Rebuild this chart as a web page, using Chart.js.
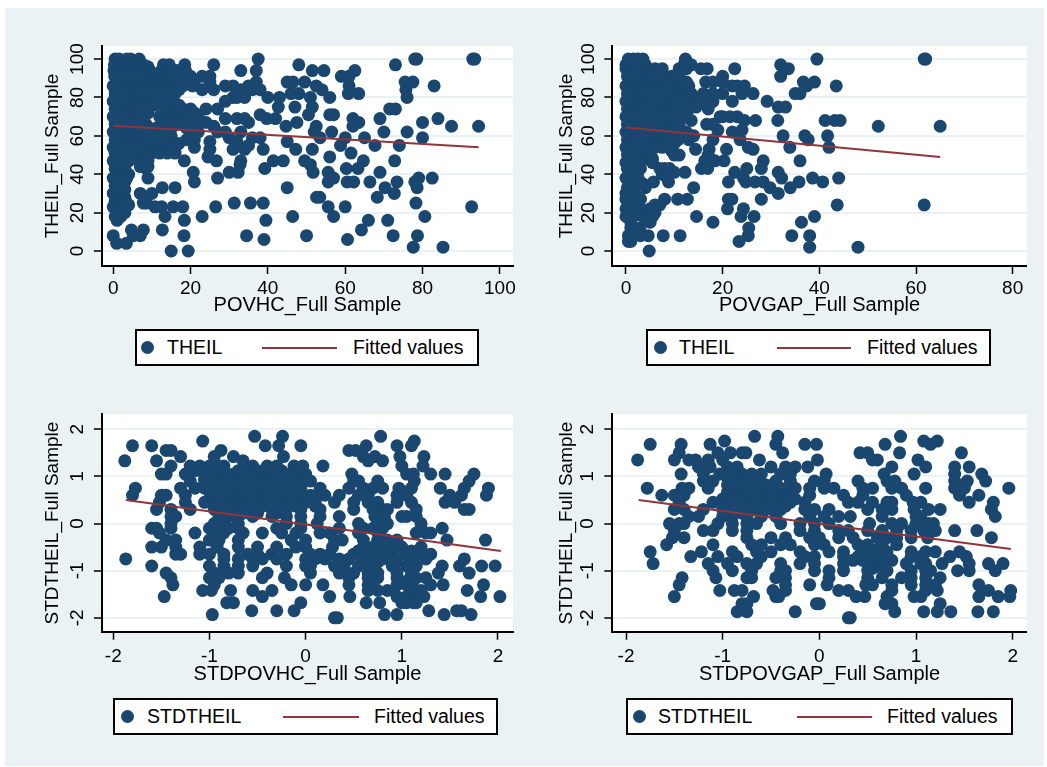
<!DOCTYPE html>
<html>
<head>
  <title>THEIL scatter plots</title>
  <script src="https://cdn.jsdelivr.net/npm/chart.js"></script>
  <style>
    body { margin: 0; background: #fff; font-family: "Liberation Sans", Arial, sans-serif; }
    #bg { position: absolute; left: 5px; top: 8px; width: 1039px; height: 758px; background: #eaf2f3; }
    canvas { position: absolute; }
    .legend { position: absolute; background: #fff; border: 2px solid #000; box-sizing: border-box; height: 37px; }
    .legend span { position: absolute; top: 5px; font-size: 19.5px; color: #000; white-space: nowrap; }
    .legend i { position: absolute; display: block; }
    .dot { width: 13px; height: 13px; border-radius: 50%; background: #1a476f; top: 10px; }
    .ln { height: 2px; background: #90353b; top: 16px; }
  </style>
</head>
<body>
  <div id="bg"></div>

  <script>
    // each row: [y, [x values at that y]]
    const hcRows = [
      [100, [.5,1.5,3.5,4.5,6.7,93,78,37.5,93.5,78.5]],
      [97, [.3,2.2,4,6,7.8,13,14.5,18.5,48,73,26]],
      [96, [1,3,5,7,9]],
      [94, [.2,1.5,3.5,5.5,7.5,9.5,12.5,14.5,16.5,18.7,37,33,51.5,62.5,54.5]],
      [92, [1,3,5,7,9,11,13,15,17]],
      [91, [.4,2.4,4.4,6.4,8.4,10,12,14,16,18,20,59,61,25,23]],
      [88, [45,46.5,49.5,75.5,77.5,25,37,21,1,3,5,7,9,11,13,15,17,19]],
      [86, [0,2,4,6,8,10,12,14,16,18,20.5,83,61,52.5,29,31,35]],
      [84, [54,75.7,26,23,36,38,33,1,3,5,7,9,11,13,15,17]],
      [82, [.5,2.5,4.5,6.5,8.5,10.5,12.5,14.5,16,60.8,63.5,46,48]],
      [80, [76,40,43,51,56,34,31,32,1,3,5,7,9,11,13,15]],
      [78, [0,2,4,6,8,10,12,14,29]],
      [76, [1,3,5,7,9,11,13,15,17]],
      [75, [42.7,47,51.5]],
      [74, [.5,2.5,4.5,6.5,8.5,16,18,20,71.5,73,24,27]],
      [72, [1,3,5,7,9,15,17,19,21]],
      [71, [50.5,56,57,38]],
      [70, [0,2,4,6,12,14,16,18,20,22]],
      [69, [42,39.7,62,69,84,29,32,34]],
      [68, [1,3,5,7,13,15,17,19]],
      [67, [47.5,63.5,80,35,24]],
      [66, [.5,2.5,4.5,6.5,8.5,13,15,17,19,21]],
      [65, [44.7,62,87.5,94.5,52.5,26]],
      [64, [1,3,5,7,9,11,13,15,19,21]],
      [62, [0,2,4,6,8,10,12,14,20,22,52,56.5,70,76,27,29,33]],
      [60, [1,3,5,7,9,11,13,15,20]],
      [59, [53.5,60,65,80,30,36,38]],
      [58, [.5,2.5,4.5,6.5,8.5,10.5,12.5,14.5,19,21]],
      [57, [45,32,25]],
      [56, [1,3,5,7,9,13,15,17]],
      [55, [74,67.7,58.8,35]],
      [54, [0,2,4,6,8,12,14,16,21]],
      [53, [38.8,47.2,51.5,25,31,34]],
      [52, [1,3,7,9,11,13,15]],
      [51, [61.5,.5,2.5,6,8,10,12,14,16]],
      [49, [56,24.5]],
      [48, [1,3,6,8]],
      [47, [49.5,64.7,41.4,18.4,44,72.8,26.7,33,0,2,4,7,9]],
      [45, [51,32.8]],
      [44, [1,3,7,9]],
      [43, [39.2,60.3,63.3,.5,2.5,8.5]],
      [41, [51.7,55.6,69,32.3,30,20.7]],
      [40, [1,3,4]],
      [38, [57,82.5,27,79,0,2,3.5,9]],
      [36, [55.6,66.4,60.5,62.2,73.4,21,78,1,3]],
      [34, [.5,2.5]],
      [33, [78.6,45,16,12.7,70.3]],
      [32, [1,3]],
      [30, [72.7,10,7,0,2]],
      [28, [68.3,52.6,53.4,1,3]],
      [26, [.5,2.5,3.2]],
      [25, [78.3,38.8,35.5,31.3,7.8,8.6]],
      [24, [1,3,4]],
      [23, [92.7,60,55.6,26.5,10.8,12.5,15.5,18,0,2,3]],
      [20, [1,3]],
      [18, [57,80.6,46.4,23,13.4,.5,2]],
      [16, [66,71,39.5,18.4,1]],
      [11, [64.2,12.7,7.8,4.7]],
      [8, [72.4,78.7,50,34.5,18.3,5.2,0,7]],
      [6, [60.6,39]],
      [4, [3.4,.9]],
      [2, [77.6,85.3]],
      [0, [19.4,15]]
    ];

    const gapRows = [
      [100, [.5,1.5,2.5,3.5,61.7,39.5,12.3,62]],
      [97, [0,2,4,12,13.5,32]],
      [95, [0,1.5,3,4.5,6,7.5,11,12.5,15.5,16.8,33.6,22.5]],
      [93, [.8,2.3,3.8,5.3,6.8]],
      [91, [.3,1.8,3.3,4.8,6.3,7.8,9.5,11,20,32]],
      [88, [39,36.7,16.5,18,20,.8,2.3,3.8,5.3,6.8,8.3,9.8,11.3,12.5]],
      [86, [0,1.5,3,4.5,6,7.5,9,10.5,12,13,43.5,37.4,22,23,24.5]],
      [84, [.8,2.3,3.8,5.3,6.8,8.3,9.8,11.3,12.8]],
      [82, [.3,1.8,3.3,4.8,6.3,7.8,9.3,10.8,12.3,13.5,36,26.3,35,24,20,18,16]],
      [80, [.8,2.3,3.8,5.3,6.8,8.3,9.8,11.3,12.8,14]],
      [78, [0,1.5,3,4.5,6,7.5,9,10.5,12,14,29.2,22,18,16,15]],
      [76, [.8,2.3,3.8,5.3,6.8,8.3,9.8,11.3,12.8]],
      [75, [17,14.5,31.5,33]],
      [74, [.3,1.8,3.3,4.8,6.3,7.8,9.3,10.8,13,17]],
      [72, [.8,2.3,3.8,5.3,6.8,8.3,9.8,10.5]],
      [70, [0,1.5,3,4.5,6,7.5,9,10.5,12,20,23,21.5,19.5]],
      [68, [13.5,26.8,31.4,44.3,43.2,41.2,24.5]],
      [66, [.3,1.8,3.3,4.8,6.3,7.8,9.3,11,18,16.7]],
      [65, [52.2,65]],
      [64, [.8,2.3,3.8,5.3,6.8,8.3,9.8,10.5]],
      [63, [24,19]],
      [62, [0,1.5,3,4.5,6,7.5,9,10.5,12.5,22]],
      [60, [32.5,37,41.7,.8,2.3,3.8,5.3,6.8,8.3,9.8,11,13,14]],
      [58, [.3,1.8,3.3,4.8,6.3,7.8,9.3,10.8,13,18,23.6,37.7]],
      [56, [.8,2.3,3.8,5.3,6.8,8,10]],
      [54, [0,1.5,3,4.5,6,7.5,9,42,33.9,25.3]],
      [53, [14.4,17.2,20.8,26.3]],
      [52, [.8,2.3,4,9.5]],
      [50, [.3,1.8,3.3,5,10,11,17]],
      [48, [.8,2.3,4,5.5]],
      [47, [36,28.4,20.3,16.3,18.4]],
      [46, [0,1.5,3,5.5]],
      [43, [.3,1.8,3,7,8,9,28,25,15.6,16.9]],
      [41, [22.5,12.2,10,31.5]],
      [40, [.8,2.3,7.5,8.5]],
      [38, [0,1.5,2.5,8.5,24.3,32.2,38.6,44]],
      [36, [24.8,26.7,28.4,21.2,8.8,5.7,35.8,40.7]],
      [35, [.8,2.3,3.5]],
      [33, [.3,1.8,4,14,34,29.8]],
      [30, [0,1.5,31.5]],
      [28, [.8,2.3]],
      [27, [0,1.5,3,21.2,21.9,28,10.7,12.7,8]],
      [24, [43.7,61.7,7,6,.8,2.3]],
      [22, [0,1.5,3,21,24.3,5]],
      [20, [.8,2.3,6]],
      [18, [0,1.5,3.5,4.5,5.5,23.8,39,26.5,14.6]],
      [15, [1,5,18,36.3]],
      [12, [2.9,25.4,1]],
      [8, [.5,1.5,3,4.6,7.7,25.3,34.3,38,11.2]],
      [5, [23.4,.5,1]],
      [2, [48,38]],
      [0, [4.8]]
    ];

    const stdHcRows = [
      [1.85, [-.53,-.24,.78]],
      [1.75, [1.13,-1.07]],
      [1.65, [-1.8,-1.6,-.42,-.28,-.05,.95,.63,1.1]],
      [1.55, [-1.45,-1.4,-.88,.45,.52]],
      [1.42, [.72,-1.3,-.75,-.23,-.95,.98,1.23,.6]],
      [1.33, [-.65,.65,.8,-1.88,-1.55]],
      [1.22, [1,1.22,.18,-1.4,-1.2,-1.1,-1,-.9,-.55,-.4,-.12,-.03,-.85,-.3]],
      [1.12, [-1.15,-1.05,-.95,-.85,-.7,-.6,-.5,-.4,-.25,-.1]],
      [1.05, [-1.5,-1.45,-1.25,-.95,-.75,-.55,-.35,-.2,-.05,.48,1.3,1.45,1.75,1.12,1.05,0]],
      [.97, [-1.05,-.9,-.8,-.65,-.55,-.45,-.35,-.25,-.15,0]],
      [.9, [-1.2,-1.05,-.95,-.85,-.75,-.6,-.5,-.4,-.3,-.2,-.1,.05,.5,.55,.75,1.13,1.7]],
      [.82, [-1,-.88,-.72,-.55,-.45,-.35,-.25,-.1]],
      [.75, [-1.3,-1.15,-1.05,-.9,-.8,-.65,-.5,-.4,-.3,-.15,-.05,.15,.45,.6,.7,.8,.97,1.1,1.4,1.65,1.9,-1.77]],
      [.67, [-1,-.9,-.8,-.7,-.6,-.5,-.4,-.25,-.15]],
      [.6, [-1.5,-1.45,-1.25,-.95,-.85,-.75,-.65,-.55,-.45,-.35,-.2,-.1,.05,.2,.35,.55,.65,.95,1.05,1.5,1.62,-1.8,1.88]],
      [.52, [-1,-.85,-.75,-.65,-.55,-.45,-.35,-.25,-.05,.1]],
      [.45, [-1.52,-1.25,-1.05,-.9,-.8,-.7,-.6,-.5,-.4,-.3,-.15,0,.1,.3,.5,.65,.75,.95,1.1,1.45,1.55]],
      [.37, [-.9,-.75,-.65,-.55,-.45,-.3,-.1,.1]],
      [.3, [-1.55,-1.4,-1.2,-.95,-.8,-.7,-.6,-.5,-.35,-.2,-.05,.15,.5,.7,.8,1.15,1.65,1.7,.85]],
      [.22, [-.75,-.65,-.5,-.3,.75,.8]],
      [.15, [-1.4,-1.35,-.9,-.8,-.7,-.55,-.35,-.2,-.05,.15,.35,.72,.82,1,1.05,1.15]],
      [0, [-1.4,-.95,-.85,-.7,-.2,-.05,.12,.55,.75,.85,1.2]],
      [-.1, [-1.6,-1.55,-1.4,-1,-.8,-.7,-.3,-.05,.35,.6,.7,.8,1.2,1.42]],
      [-.2, [-1.52,-1.15,-.95,-.85,-.65,-.45,-.25,-.1,.15,.25,.55,.75,1.15,1.3,1.25]],
      [-.35, [-1.45,-1.35,-1,-.9,-.7,-.15,0,.3,.38,.6,.75,.85,.95,1.47,1.87]],
      [-.5, [-1.6,-1.5,-1.35,-1.1,-.92,-.7,-.5,-.3,-.1,0,.28,.6,.7,.85,1,1.2]],
      [-.58, [.55,.65,.75,.9,1.1]],
      [-.65, [-1.35,-1.3,-1.1,-1,-.85,-.6,-.5,-.35,-.2,.05,.15,.25,.5,.6,.7,.85,1.05,1.17,1.3]],
      [-.75, [-1.87,-.85,-.7,-.55,-.45,-.3,0,.1,.2,.35,.45,.65,.8,.95,1.1,1.25,1.65]],
      [-.82, [.6,.75,.95,1.1]],
      [-.9, [-1.6,-1,-.85,-.7,-.55,-.2,0,.05,.3,.4,.55,.7,.9,1.05,1.15,1.42,1.6,1.83,1.97]],
      [-1.05, [-1.45,-.95,-.8,-.7,-.4,.05,.35,.5,.65,.75,.95,1.1,1.38,1.7]],
      [-1.15, [-1.4,-1,-.9,-.45,-.22,.45,.65,.75,.95,1.15,1.25]],
      [-1.22, [1.05,1.12,.7]],
      [-1.3, [-1.38,-.95,-.15,0,.18,.45,.65,.7,.95,1.05,1.3,1.43,1.85]],
      [-1.42, [-1.07,-.98,-.78,-.55,-.35,.65,.75,.85,1.1,1.2,1.68]],
      [-1.55, [-1.47,-.45,.25,.46,.95,1.05,1.15,1.23,1.82,2.02]],
      [-1.68, [-.75,-.82,-.05,.63,.77,1,1.12,1.05,1.15]],
      [-1.85, [-.12,-.56,-.3,1.28,1.57,1.62]],
      [-1.93, [-.97,.82,.95,1.44,1.72]],
      [-2, [.3,.33]]
    ];

    const stdGapRows = [
      [1.85, [-.67,-.43,.84]],
      [1.75, [-.98,1.08,1.22]],
      [1.68, [-1.43,-1.75,-1.13,-.45,-.15,-.03,.68,1.15]],
      [1.5, [-1.45,-.92,-.8,-.76,.42,.5,.83,1.47,-1.05,-.38]],
      [1.35, [-1.5,-1.35,-1.28,-1.15,-1,-.62,-.02,.6,.55,1.02,-1.88]],
      [1.2, [-1.25,-1.13,-.95,-.85,-.5,-.35,-.25,-.12,.75,1.1,1.4,1.55]],
      [1.05, [-1.43,-1.2,-1.03,-.9,-.8,-.7,-.6,-.4,-.3,.07,.67,.98,1.4,1.68]],
      [.97, [-.95,-.85,-.75,-.65]],
      [.9, [-1.2,-1.1,-.9,-.8,-.7,-.45,-.3,-.05,.05,.4,.7,.78,1.4,1.53,1.72]],
      [.82, [-.95,-.85,-.75,-.65,-.55]],
      [.75, [-1.78,-1.35,-1.42,-1.15,-.9,-.8,-.7,-.6,-.4,-.25,-.1,.05,.15,.45,.55,.75,.85,1.1,1.4,1.5,1.96]],
      [.67, [-.95,-.85,-.75,-.65,-.55,-.45,-.3]],
      [.6, [-1.63,-1.5,-1.4,-.95,-.85,-.75,-.65,-.5,-.35,-.1,.25,.45,.9,1.45,1.65]],
      [.52, [-1,-.9,-.8,-.7,-.6,-.45,-.35,-.25]],
      [.45, [-1.45,-1.1,-.95,-.85,-.7,-.55,-.4,-.3,-.15,.3,.4,.55,.7,.75,.97,1.05,1.55,1.8]],
      [.37, [-.95,-.8,-.65,-.5,-.35]],
      [.3, [-1.5,-1.4,-1.2,-1,-.85,-.7,-.55,-.4,-.15,-.05,.1,.5,.65,.75,.98,1.13,1.25,1.78]],
      [.22, [-.95,-.8,-.6,-.45]],
      [.15, [-1.35,-1.25,-1,-.9,-.75,-.6,-.45,-.1,.05,.2,.32,.65,1,1.05,1.82]],
      [0, [-1.55,-1.45,-1.4,-1.05,-.9,-.75,-.65,-.4,-.2,-.05,.1,.52,.75,.85,1,1.13,1.18]],
      [-.15, [-1.5,-1.1,-1.2,-.9,-.75,-.2,-.05,.2,.3,.5,.65,.8,.95,1.08,1.2,1.4,1.63]],
      [-.3, [-1.52,-1.4,-.75,-.5,-.35,-.1,0,.2,.35,.6,.7,.8,.95,1.12,1.78]],
      [-.45, [-1.58,-1.1,-.7,-.6,-.4,-.3,-.05,.05,.4,.5,.65,.8]],
      [-.55, [.5,.6]],
      [-.6, [-1.75,-1.22,-.9,-.65,-.5,-.2,.1,.25,.45,.55,.7,.95,1.1,1.2,1.45]],
      [-.7, [-1.33,-1.05,-.85,-.6,-.15,-.05,.25,.4,.55,.7,.95,1.05,1.35,1.52]],
      [-.78, [.35,.45,.6,.75]],
      [-.85, [-1.72,-1.15,-.95,-.75,-.65,-.4,-.2,-.05,.25,.5,.65,.9,1.05,1.1,1.27,1.55,1.75,1.9]],
      [-.95, [.55,.65]],
      [-1, [-1.1,-.9,-.7,-.4,-.35,-.05,.1,.25,.5,.7,.95,1.1,1.15,1.43,1.55,1.82]],
      [-1.15, [-1.42,-1.07,-.75,-.7,-.45,-.35,.1,.5,.65,.85,.95,1.1,1.25]],
      [-1.3, [-1.45,-.35,-.1,.08,.48,.55,.75,.95,1.1,1.2,1.65]],
      [-1.42, [-1.03,-.88,-.8,-.48,-.35,.2,.3,.75,1.1,1.22,1.75,1.98]],
      [-1.55, [-1.5,-.68,-.45,-.42,.38,.47,.7,.98,1.05,1.65,1.85,1.97]],
      [-1.7, [-.8,-.75,-.03,0,.68,.75,1.25]],
      [-1.87, [-.85,-.75,-.25,.78,1.08,1.22,1.36,1.64,1.8]],
      [-2, [.3,.32]]
    ];

    const hcFit = [[0, 65.3], [94.5, 54]];
    const gapFit = [[0, 64.3], [65, 49]];
    const stdHcFit = [[-1.87, .5], [2.03, -.58]];
    const stdGapFit = [[-1.87, .5], [1.98, -.54]];

    const theilTicks = [0, 20, 40, 60, 80, 100];
    const gapTicks = [0, 20, 40, 60, 80];
    const stdTicks = [-2, -1, 0, 1, 2];

    const navy = '#1a476f';
    const maroon = '#90353b';
    const gridCol = '#eaf2f3';
    const fontFam = '"Liberation Sans", Arial, sans-serif';

    const whitePlot = {
      id: 'whitePlot',
      beforeDraw(chart) {
        const a = chart.chartArea;
        chart.ctx.fillStyle = '#fff';
        chart.ctx.fillRect(a.left, a.top, a.right - a.left, a.bottom - a.top);
      }
    };

    function toPoints(rows) {
      return rows.flatMap(r => r[1].map(x => ({ x: x, y: r[0] })));
    }

    function makeChart(p) {
      const cv = document.createElement('canvas');
      cv.style.left = p.left + 'px';
      cv.style.top = p.top + 'px';
      cv.width = 525;
      cv.height = 320;
      document.body.appendChild(cv);

      new Chart(cv.getContext('2d'), {
        type: 'scatter',
        data: {
          datasets: [
            { label: 'Fitted values', data: p.fit.map(f => ({ x: f[0], y: f[1] })), showLine: true,
              borderColor: maroon, borderWidth: 2, pointRadius: 0, order: 0 },
            { label: p.name, data: toPoints(p.rows), backgroundColor: navy, borderWidth: 0,
              pointRadius: 6.5, order: 1 }
          ]
        },
        options: {
          responsive: false,
          animation: false,
          layout: { padding: { top: p.plotTop - p.top, right: 525 - (p.plotRight - p.left), left: 0, bottom: 0 } },
          plugins: { legend: { display: false }, tooltip: { enabled: false } },
          scales: {
            x: {
              type: 'linear', min: p.xMin, max: p.xMax,
              afterBuildTicks: s => { s.ticks = p.xTicks.map(v => ({ value: v })); },
              afterFit: s => { s.height = 320 - (p.plotBottom - p.top); },
              grid: { color: 'rgba(0,0,0,0)', tickColor: '#000', tickLength: 8, tickWidth: 1.5 },
              border: { color: '#000', width: 2 },
              ticks: { color: '#000', font: { family: fontFam, size: 19 }, padding: p.xPad, maxRotation: 0, autoSkip: false },
              title: { display: true, text: p.xTitle, color: '#000', font: { family: fontFam, size: 20 },
                padding: { top: 0, bottom: 320 - (p.plotBottom - p.top) - p.xTitleDy - 12 } }
            },
            y: {
              type: 'linear', min: p.yMin, max: p.yMax,
              afterBuildTicks: s => { s.ticks = p.yTicks.map(v => ({ value: v })); },
              afterFit: s => { s.width = p.axisX - p.left; },
              grid: { color: gridCol, lineWidth: 2, tickColor: '#000', tickLength: 8, tickWidth: 1.5 },
              border: { color: '#000', width: 2 },
              ticks: { color: '#000', font: { family: fontFam, size: 19 }, padding: p.yPad, minRotation: 90, maxRotation: 90,
                crossAlign: 'center', autoSkip: false },
              title: { display: true, text: p.yTitle, color: '#000', font: { family: fontFam, size: 19 },
                padding: { top: p.yTitleX - p.left - 11.4, bottom: 0 } }
            }
          }
        },
        plugins: [whitePlot]
      });

      const box = document.createElement('div');
      box.className = 'legend';
      box.style.left = p.lg[0] + 'px';
      box.style.top = p.lgTop + 'px';
      box.style.width = (p.lg[1] - p.lg[0]) + 'px';
      const o = p.lg[0] + 2;
      box.innerHTML =
        '<i class="dot" style="left:' + (p.lg[2] - o - 6.5) + 'px"></i>' +
        '<span style="left:' + (p.lg[3] - o) + 'px">' + p.name + '</span>' +
        '<i class="ln" style="left:' + (p.lg[4] - o) + 'px;width:' + (p.lg[5] - p.lg[4]) + 'px"></i>' +
        '<span style="left:' + (p.lg[6] - o) + 'px">Fitted values</span>';
      document.body.appendChild(box);
    }

    const topRow = { top: 30, plotTop: 46, plotBottom: 266, yMin: -7.8, yMax: 106.8, yTicks: theilTicks,
      yPad: 0, xPad: 3, xTitleDy: 39, lgTop: 329, name: 'THEIL', yTitle: 'THEIL_Full Sample' };
    const botRow = { top: 395, plotTop: 412.3, plotBottom: 631.7, yMin: -2.294, yMax: 2.315, yTicks: stdTicks,
      yPad: 8, xPad: 6, xTitleDy: 42.5, lgTop: 698, name: 'STDTHEIL', yTitle: 'STDTHEIL_Full Sample' };

    makeChart({ ...topRow, left: 0, axisX: 102, plotRight: 513, yTitleX: 53, rows: hcRows, fit: hcFit,
      xMin: -2.9, xMax: 103.4, xTicks: theilTicks, xTitle: 'POVHC_Full Sample', lg: [135, 479, 147, 167, 262, 337, 353] });
    makeChart({ ...topRow, left: 510, axisX: 612.3, plotRight: 1026.7, yTitleX: 567, rows: gapRows, fit: gapFit,
      xMin: -2.83, xMax: 82.9, xTicks: gapTicks, xTitle: 'POVGAP_Full Sample', lg: [646, 991, 660, 679, 777, 851, 867] });
    makeChart({ ...botRow, left: 0, axisX: 102, plotRight: 513, yTitleX: 53, rows: stdHcRows, fit: stdHcFit,
      xMin: -2.117, xMax: 2.156, xTicks: stdTicks, xTitle: 'STDPOVHC_Full Sample', lg: [113, 498, 127, 147, 283, 359, 374] });
    makeChart({ ...botRow, left: 510, axisX: 612.3, plotRight: 1026.7, yTitleX: 567, rows: stdGapRows, fit: stdGapFit,
      xMin: -2.142, xMax: 2.145, xTicks: stdTicks, xTitle: 'STDPOVGAP_Full Sample', lg: [626, 1013, 639, 658, 797, 872, 887] });
  </script>
</body>
</html>
